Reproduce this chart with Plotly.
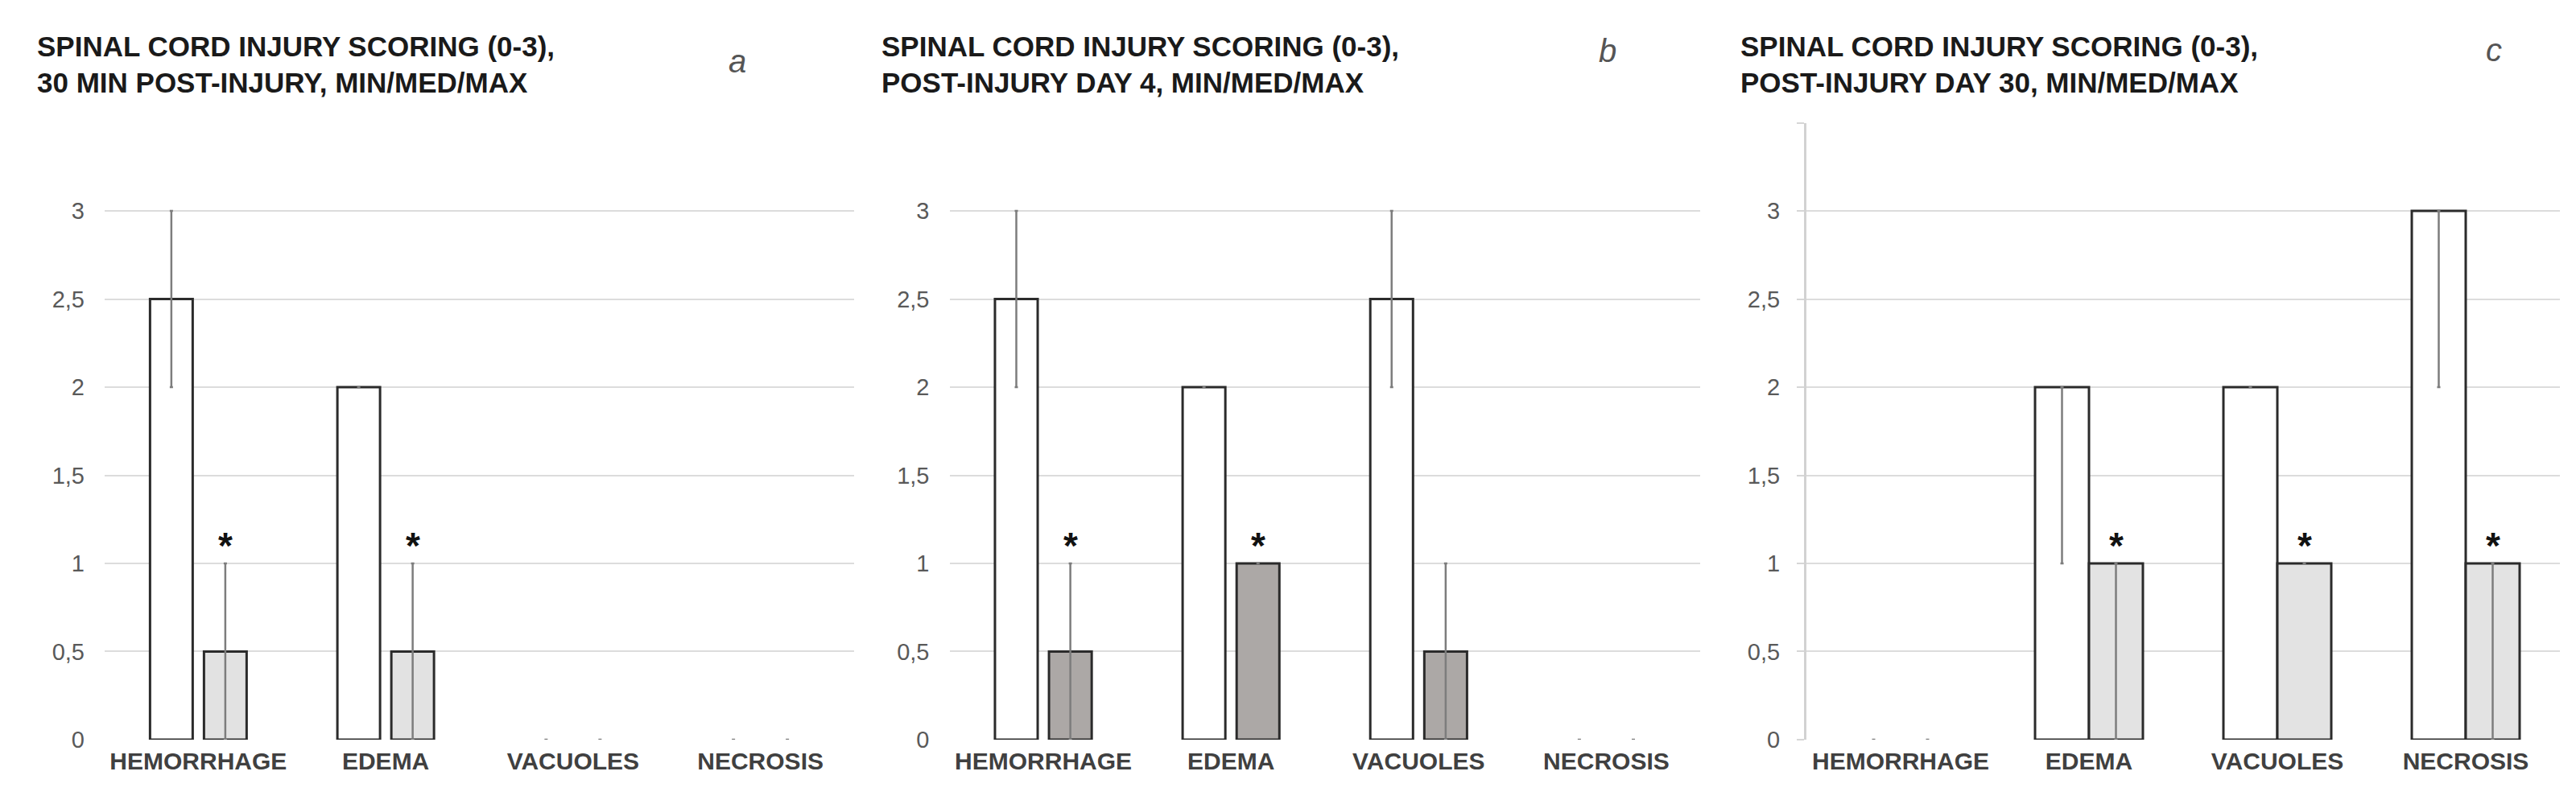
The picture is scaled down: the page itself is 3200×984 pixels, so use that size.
import plotly.graph_objects as go

# ---------------- data ----------------
categories = ["HEMORRHAGE", "EDEMA", "VACUOLES", "NECROSIS"]
y_tickvals = [0, 0.5, 1, 1.5, 2, 2.5, 3, 3.5]
y_ticktext = ["0", "0,5", "1", "1,5", "2", "2,5", "3", ""]

titles = [
    ["SPINAL CORD INJURY SCORING (0-3),", "30 MIN POST-INJURY, MIN/MED/MAX"],
    ["SPINAL CORD INJURY SCORING (0-3),", "POST-INJURY DAY 4, MIN/MED/MAX"],
    ["SPINAL CORD INJURY SCORING (0-3),", "POST-INJURY DAY 30, MIN/MED/MAX"],
]
panel_letters = ["a", "b", "c"]

# panel a: 30 min post-injury
a_ctrl_med = [2.5, 2, 0, 0]
a_ctrl_min = [2, 2, 0, 0]
a_ctrl_max = [3, 2, 0, 0]
a_trt_med = [0.5, 0.5, 0, 0]
a_trt_min = [0, 0, 0, 0]
a_trt_max = [1, 1, 0, 0]
a_sig = [1, 1, 0, 0]

# panel b: day 4
b_ctrl_med = [2.5, 2, 2.5, 0]
b_ctrl_min = [2, 2, 2, 0]
b_ctrl_max = [3, 2, 3, 0]
b_trt_med = [0.5, 1, 0.5, 0]
b_trt_min = [0, 1, 0, 0]
b_trt_max = [1, 1, 1, 0]
b_sig = [1, 1, 0, 0]

# panel c: day 30
c_ctrl_med = [0, 2, 2, 3]
c_ctrl_min = [0, 1, 2, 2]
c_ctrl_max = [0, 2, 2, 3]
c_trt_med = [0, 1, 1, 1]
c_trt_min = [0, 0, 1, 0]
c_trt_max = [0, 1, 1, 1]
c_sig = [0, 1, 1, 1]

panels = [
    (a_ctrl_med, a_ctrl_min, a_ctrl_max, a_trt_med, a_trt_min, a_trt_max, a_sig),
    (b_ctrl_med, b_ctrl_min, b_ctrl_max, b_trt_med, b_trt_min, b_trt_max, b_sig),
    (c_ctrl_med, c_ctrl_min, c_ctrl_max, c_trt_med, c_trt_min, c_trt_max, c_sig),
]

# ---------------- styling ----------------
W, H = 3200, 984
FONT = "Liberation Sans, Arial, sans-serif"
trt_colors = ["#e2e2e2", "#aca8a6", "#e3e3e3"]
x_domains_px = [(122, 1053), (1171.5, 2104), (2236, 3172)]
y_domain_px = (926, 147)  # bottom (0), top (3.5)
bar_w = [0.2277, 0.2277, 0.2863]
ctrl_off = [-0.2578, -0.2578, -0.2863]
trt_off = [0.0301, 0.0301, 0.0]
trt_center_shift_px = [33.5, 33.5, 33.5]
title_x_px = [36, 1085, 2152]
title_y_px = [50, 96]
letter_x_px = [908, 1989, 3090]
letter_y_px = [69, 56, 55]


def outline_widths(vals):
    return [3 if v > 0 else 0 for v in vals]


fig = go.Figure()
annotations = []

for i, (cmed, cmin, cmax, tmed, tmin, tmax, sig) in enumerate(panels):
    xa = "x" if i == 0 else f"x{i+1}"
    ya = "y" if i == 0 else f"y{i+1}"
    err_style = dict(type="data", symmetric=False, color="#7d7d7d", thickness=2.5, width=2)
    fig.add_trace(go.Bar(
        x=categories, y=cmed, xaxis=xa, yaxis=ya,
        width=bar_w[i], offset=ctrl_off[i],
        marker=dict(color="#ffffff", line=dict(color="#2b2b2b", width=outline_widths(cmed))),
        error_y=dict(array=[mx - m for mx, m in zip(cmax, cmed)],
                     arrayminus=[m - mn for m, mn in zip(cmed, cmin)], **err_style),
        showlegend=False, hoverinfo="skip",
    ))
    fig.add_trace(go.Bar(
        x=categories, y=tmed, xaxis=xa, yaxis=ya,
        width=bar_w[i], offset=trt_off[i],
        marker=dict(color=trt_colors[i], line=dict(color="#2b2b2b", width=outline_widths(tmed))),
        error_y=dict(array=[mx - m for mx, m in zip(tmax, tmed)],
                     arrayminus=[m - mn for m, mn in zip(tmed, tmin)], **err_style),
        showlegend=False, hoverinfo="skip",
    ))
    # significance asterisks
    for cat, s, top in zip(categories, sig, tmax):
        if s:
            annotations.append(dict(
                x=cat, y=top, xref=xa, yref=ya, text="<b>*</b>", showarrow=False,
                xshift=trt_center_shift_px[i], yshift=22, yanchor="middle",
                font=dict(family=FONT, size=46, color="#111111"),
            ))
    # titles
    for line, ty in zip(titles[i], title_y_px):
        annotations.append(dict(
            x=title_x_px[i] / W, y=1 - ty / H, xref="paper", yref="paper",
            text=f"<b>{line}</b>", showarrow=False, xanchor="left", yanchor="middle",
            font=dict(family=FONT, size=35, color="#1a1a1a"),
        ))
    annotations.append(dict(
        x=letter_x_px[i] / W, y=1 - letter_y_px[i] / H, xref="paper", yref="paper",
        text=f"<i>{panel_letters[i]}</i>", showarrow=False, xanchor="center", yanchor="middle",
        font=dict(family=FONT, size=40, color="#555555"),
    ))

    x0, x1 = x_domains_px[i]
    xkey = "xaxis" if i == 0 else f"xaxis{i+1}"
    ykey = "yaxis" if i == 0 else f"yaxis{i+1}"
    fig.layout[xkey] = dict(
        domain=[x0 / W, x1 / W], anchor=ya, type="category",
        categoryorder="array", categoryarray=categories,
        showgrid=False, zeroline=False, showline=False, ticks="",
        tickfont=dict(family=FONT, size=30, color="#404040", weight="bold"),
        ticklabelstandoff=6, fixedrange=True,
    )
    ycfg = dict(
        domain=[(H - y_domain_px[0]) / H, (H - y_domain_px[1]) / H], anchor=xa,
        range=[0, 3.5], tickmode="array", tickvals=y_tickvals, ticktext=y_ticktext,
        showgrid=True, gridcolor="#dcdcdc", gridwidth=2, zeroline=False,
        tickfont=dict(family=FONT, size=29, color="#595959"),
        ticklabelstandoff=24, fixedrange=True,
    )
    if i == 2:
        ycfg.update(showline=True, linecolor="#d2d2d2", linewidth=3,
                    ticks="outside", ticklen=9, tickcolor="#d6d6d6", tickwidth=2,
                    ticklabelstandoff=15)
    else:
        ycfg.update(showline=False, ticks="")
    fig.layout[ykey] = ycfg

fig.update_layout(
    width=W, height=H, autosize=False,
    margin=dict(l=0, r=0, t=0, b=0),
    paper_bgcolor="#ffffff", plot_bgcolor="#ffffff",
    barmode="overlay", separators=", ",
    annotations=annotations,
    font=dict(family=FONT),
)

fig.write_html("out.html")
